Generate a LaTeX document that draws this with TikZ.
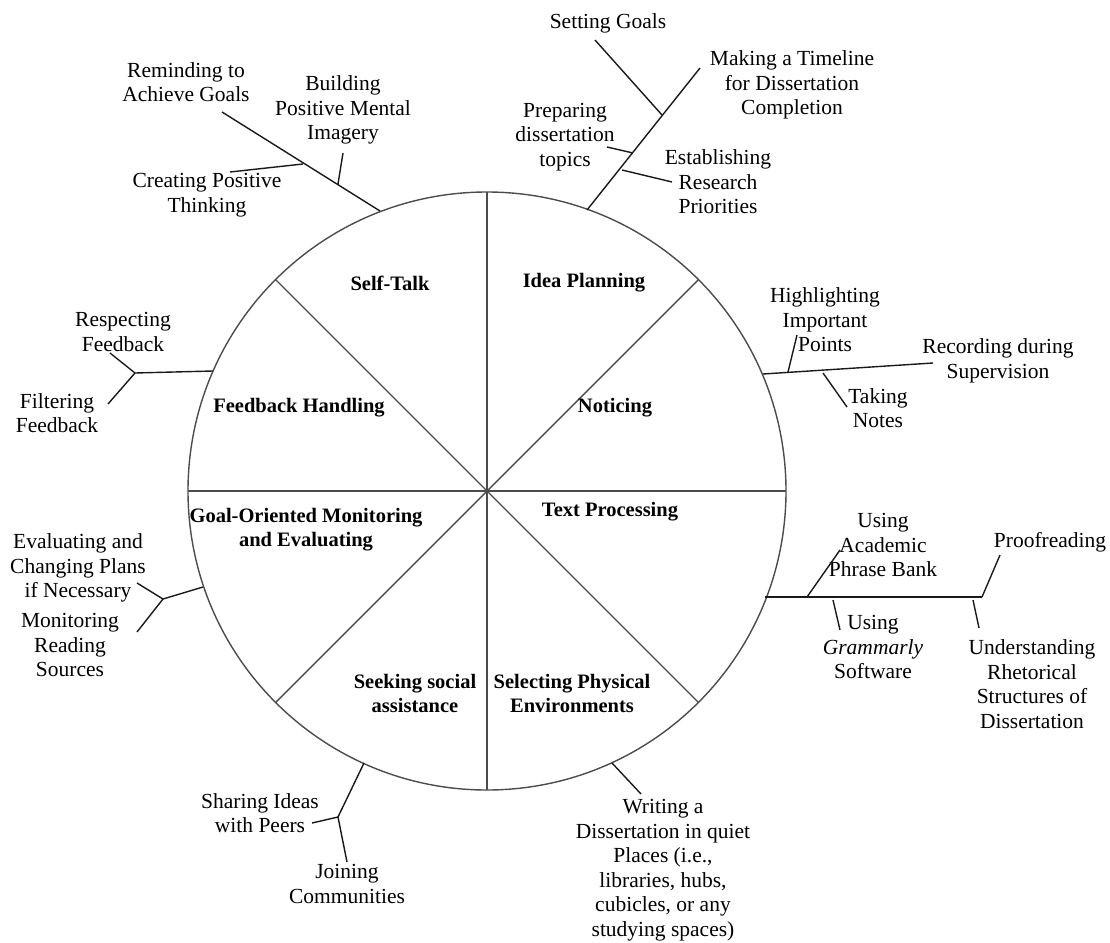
\documentclass[tikz,border=0pt]{standalone}
\usepackage{fontspec}
\setmainfont{Liberation Serif}
\begin{document}
\begin{tikzpicture}[x=1pt,y=-1pt,
 lbl/.style={align=center,font=\fontsize{21.5}{24.5}\selectfont,inner sep=0pt},
 seg/.style={align=center,font=\fontsize{20.5}{24}\selectfont\bfseries,inner sep=0pt},
 wheel/.style={draw=black!70,line width=1.4pt},
 conn/.style={draw=black!90,line width=1.4pt}]
\useasboundingbox (0,0) rectangle (1110,942);
\coordinate (O) at (487,491);
% wheel
\draw[wheel] (O) circle[radius=299];
\foreach \a in {0,45,...,315} \draw[wheel] (O) -- ++(\a:299);
% segment labels
\node[seg] (st) at (390,283) {Self-Talk};
\node[seg] (ip) at (584,283) {Idea Planning};
\node[seg] (no) at (615,408) {Noticing};
\node[seg] (fh) at (299,408) {Feedback Handling};
\node[seg] (gm) at (306,530) {Goal-Oriented Monitoring\\and Evaluating};
\node[seg] (tp) at (610,512) {Text Processing};
\node[seg] (ss) at (415,693) {Seeking social\\assistance};
\node[seg] (sp) at (572,693) {Selecting Physical\\Environments};
% outer labels
\node[lbl] (rem) at (186,82) {Reminding to\\Achieve Goals};
\node[lbl] (bld) at (343,110) {Building\\Positive Mental\\Imagery};
\node[lbl] (cpt) at (207,195) {Creating Positive\\Thinking};
\node[lbl] (sg) at (608,23) {Setting Goals};
\node[lbl] (mt) at (792,85) {Making a Timeline\\for Dissertation\\Completion};
\node[lbl] (pdt) at (565,137) {Preparing\\dissertation\\topics};
\node[lbl] (erp) at (718,182) {Establishing\\Research\\Priorities};
\node[lbl] (rf) at (123,332) {Respecting\\Feedback};
\node[lbl] (ff) at (57,413) {Filtering\\Feedback};
\node[lbl] (hip) at (825,320) {Highlighting\\Important\\Points};
\node[lbl] (rds) at (998,361) {Recording during\\Supervision};
\node[lbl] (tn) at (878,408) {Taking\\Notes};
\node[lbl] (ecp) at (78,568) {Evaluating and\\Changing Plans\\if Necessary};
\node[lbl] (mrs) at (70,645) {Monitoring\\Reading\\Sources};
\node[lbl] (uapb) at (883,545) {Using\\Academic\\Phrase Bank};
\node[lbl] (ugs) at (873,647) {Using\\\textit{Grammarly}\\Software};
\node[lbl] (pr) at (1050,542) {Proofreading};
\node[lbl] (urs) at (1032,684) {Understanding\\Rhetorical\\Structures of\\Dissertation};
\node[lbl] (sip) at (260,813) {Sharing Ideas\\with Peers};
\node[lbl] (jc) at (347,884) {Joining\\Communities};
\node[lbl] (wd) at (663,870) {Writing a\\Dissertation in quiet\\Places (i.e.,\\libraries, hubs,\\cubicles, or any\\studying spaces)};
% connector points
\coordinate (a0) at (380,211); \coordinate (a1) at (222,112);
\coordinate (a2) at (303,164); \coordinate (a3) at (230,172);
\coordinate (a4) at (338,184); \coordinate (a5) at (343,153);
\coordinate (b0) at (587,210); \coordinate (b1) at (700,68);
\coordinate (b2) at (662,115); \coordinate (b3) at (595,40);
\coordinate (b4) at (633,153); \coordinate (b5) at (607,147);
\coordinate (b6) at (622,170); \coordinate (b7) at (672,182);
\coordinate (c0) at (213,371); \coordinate (c1) at (135,373);
\coordinate (c2) at (110,353); \coordinate (c3) at (108,404);
\coordinate (d0) at (763,374); \coordinate (d1) at (933,363);
\coordinate (d2) at (788,372); \coordinate (d3) at (797,335);
\coordinate (d4) at (823,373); \coordinate (d5) at (847,407);
\coordinate (e0) at (203,587); \coordinate (e1) at (163,599);
\coordinate (e2) at (137,583); \coordinate (e3) at (137,632);
\coordinate (f0) at (765,597); \coordinate (f1) at (982,597);
\coordinate (f2) at (807,597); \coordinate (f3) at (840,550);
\coordinate (f4) at (833,600); \coordinate (f5) at (840,630);
\coordinate (f6) at (1000,555);
\coordinate (f7) at (973,600); \coordinate (f8) at (979,628);
\coordinate (g0) at (364,763); \coordinate (g1) at (338,817);
\coordinate (g2) at (312,823); \coordinate (g3) at (347,862);
\coordinate (h0) at (612,763); \coordinate (h1) at (641,794);
% connectors
\draw[conn] (a0) -- (a1); \draw[conn] (a2) -- (a3); \draw[conn] (a4) -- (a5);
\draw[conn] (b0) -- (b1); \draw[conn] (b2) -- (b3); \draw[conn] (b4) -- (b5); \draw[conn] (b6) -- (b7);
\draw[conn] (c0) -- (c1); \draw[conn] (c1) -- (c2); \draw[conn] (c1) -- (c3);
\draw[conn] (d0) -- (d1); \draw[conn] (d2) -- (d3); \draw[conn] (d4) -- (d5);
\draw[conn] (e0) -- (e1); \draw[conn] (e1) -- (e2); \draw[conn] (e1) -- (e3);
\draw[conn] (f0) -- (f1); \draw[conn] (f2) -- (f3); \draw[conn] (f4) -- (f5);
\draw[conn] (f1) -- (f6); \draw[conn] (f7) -- (f8);
\draw[conn] (g0) -- (g1); \draw[conn] (g1) -- (g2); \draw[conn] (g1) -- (g3);
\draw[conn] (h0) -- (h1);
\end{tikzpicture}
\end{document}
